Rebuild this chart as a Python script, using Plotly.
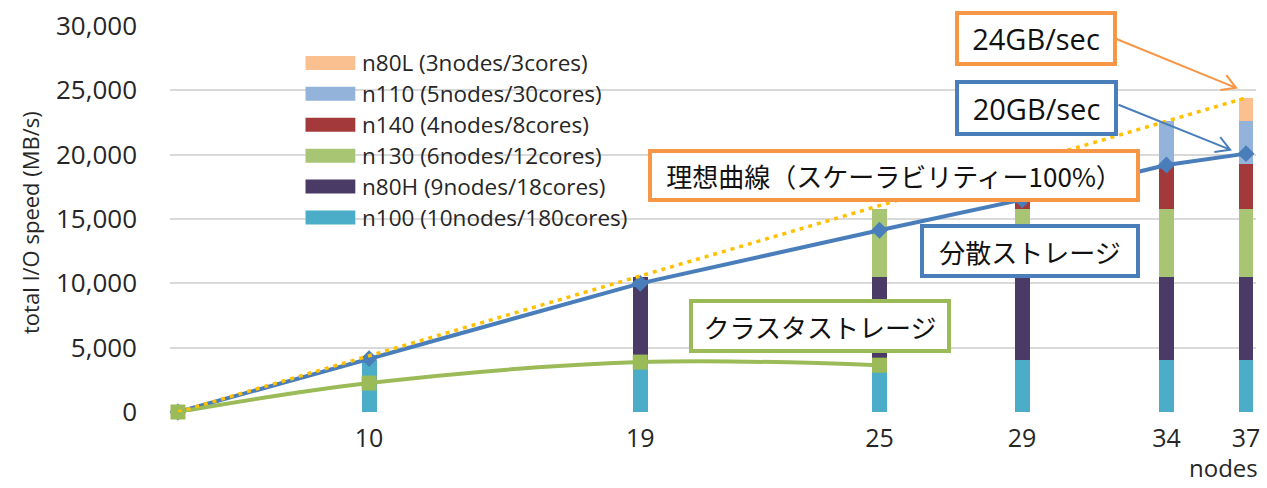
import plotly.graph_objects as go
import math

# ---------------- data ----------------
node_labels = ["0", "10", "19", "25", "29", "34", "37"]
# ideal (100% scalability) throughput, MB/s -> also used as x position
ideal = [0, 4370, 10570, 16040, 19300, 22600, 24420]

# stacked bars (one per node count 10..37), MB/s
bar_series = ["n100 (10nodes/180cores)", "n80H (9nodes/18cores)", "n130 (6nodes/12cores)",
              "n140 (4nodes/8cores)", "n110 (5nodes/30cores)", "n80L (3nodes/3cores)"]
bar_colors = ["#4BADC8", "#4A3B66", "#A8C573", "#A3393B", "#93B3DA", "#FBC08F"]
n100 = [4030, 4030, 4030, 4030, 4030, 4030]
n80H = [0, 6430, 6430, 6430, 6430, 6430]
n130 = [0, 0, 5350, 5350, 5350, 5350]
n140 = [0, 0, 0, 3490, 3490, 3490]
n110 = [0, 0, 0, 0, 3330, 3330]
n80L = [0, 0, 0, 0, 0, 1780]
bar_values = [n100, n80H, n130, n140, n110, n80L]

distributed = [0, 4150, 10000, 14120, 16500, 19200, 20080]   # 分散ストレージ
clustered = [0, 2250, 3880, 3640]                             # クラスタストレージ

# ---------------- geometry helpers ----------------
W, H = 1267, 488
L, R, T, B = 170, 7, 25, 76
PW, PH = W - L - R, H - T - B


def px(x):
    return (x - L) / PW


def py(y):
    return (H - B - y) / PH


FONT = "Open Sans, Noto Sans CJK JP, sans-serif"
JFONT = "Noto Sans CJK JP, sans-serif"

fig = go.Figure()

bar_x = ideal[1:]
for name, col, vals in zip(bar_series, bar_colors, bar_values):
    fig.add_trace(go.Bar(x=bar_x, y=vals, name=name, marker=dict(color=col, line=dict(width=0)),
                         width=340, showlegend=False))

fig.add_trace(go.Scatter(x=ideal, y=distributed, mode="lines+markers", name="分散ストレージ",
                         line=dict(color="#4A7EBB", width=4),
                         marker=dict(symbol="diamond", size=13, color="#4A7EBB"),
                         cliponaxis=False, showlegend=False))
fig.add_trace(go.Scatter(x=ideal[:len(clustered)], y=clustered, mode="lines+markers",
                         name="クラスタストレージ",
                         line=dict(color="#9BBB59", width=4, shape="spline", smoothing=1.0),
                         marker=dict(symbol="square", size=15, color="#9BBB59"),
                         cliponaxis=False, showlegend=False))
fig.add_trace(go.Scatter(x=ideal, y=ideal, mode="lines", name="理想曲線",
                         line=dict(color="#FFC000", width=3.5, dash="4px,5px"),
                         cliponaxis=False, showlegend=False))

shapes = []
annotations = []

# white legend background covering gridlines
shapes.append(dict(type="rect", xref="paper", yref="paper", x0=px(208), x1=px(735), y0=py(236), y1=py(18),
                   fillcolor="white", line=dict(width=0), layer="between"))

# manual legend (top to bottom reversed stacking order)
for i, k in enumerate(range(len(bar_series) - 1, -1, -1)):
    yc = 62 + 31 * i
    shapes.append(dict(type="rect", xref="paper", yref="paper", x0=px(306), x1=px(356),
                       y0=py(yc + 7), y1=py(yc - 7), fillcolor=bar_colors[k], line=dict(width=0)))
    annotations.append(dict(text=bar_series[k], xref="paper", yref="paper", x=px(361), y=py(yc),
                            xanchor="left", yanchor="middle", showarrow=False,
                            font=dict(family=FONT, size=22.5, color="#262626")))

# boxed callouts: (text, color, x0, x1, y0, y1, size, font)
boxes = [
    ("24GB/sec", "#F79646", 958, 1120, 10, 65, 29, FONT),
    ("20GB/sec", "#4A7EBB", 958, 1121, 79, 135, 29, FONT),
    ("理想曲線（スケーラビリティー100%）", "#F79646", 651, 1143, 148, 201, 26, JFONT),
    ("分散ストレージ", "#4A7EBB", 923, 1143, 224, 278, 26, JFONT),
    ("クラスタストレージ", "#9BBB59", 691, 953, 299, 353, 26, JFONT),
]
BW = 4
for text, col, x0, x1, y0, y1, size, fam in boxes:
    annotations.append(dict(text=text, xref="paper", yref="paper",
                            x=px((x0 + x1) / 2), y=py((y0 + y1) / 2),
                            xanchor="center", yanchor="middle", showarrow=False,
                            width=x1 - x0 - 2 * BW, height=y1 - y0 - 2 * BW,
                            bgcolor="white", bordercolor=col, borderwidth=BW, borderpad=0,
                            font=dict(family=fam, size=size, color="#111111")))


def arrow(xs, ys, xt, yt, col):
    d = math.hypot(xt - xs, yt - ys)
    ux, uy = (xt - xs) / d, (yt - ys) / d
    ln, ang = 16, math.radians(30)
    pts = []
    for s in (1, -1):
        c, sn = math.cos(s * ang), math.sin(s * ang)
        vx = -(ux * c - uy * sn)
        vy = -(ux * sn + uy * c)
        pts.append((xt + ln * vx, yt + ln * vy))
    path = (f"M{px(xs)},{py(ys)} L{px(xt)},{py(yt)} "
            f"M{px(pts[0][0])},{py(pts[0][1])} L{px(xt)},{py(yt)} L{px(pts[1][0])},{py(pts[1][1])}")
    shapes.append(dict(type="path", xref="paper", yref="paper", path=path,
                       line=dict(color=col, width=2)))


arrow(1120, 38, 1240, 87, "#F79646")
arrow(1122, 104, 1234, 149, "#4A7EBB")

# axis titles
annotations.append(dict(text="total I/O speed (MB/s)", xref="paper", yref="paper", x=px(30), y=py(222),
                        textangle=-90, showarrow=False, xanchor="center", yanchor="middle",
                        font=dict(family=FONT, size=22, color="#262626")))
annotations.append(dict(text="nodes", xref="paper", yref="paper", x=px(1264), y=py(468),
                        xanchor="right", yanchor="middle", showarrow=False,
                        font=dict(family=FONT, size=24, color="#262626")))

fig.update_layout(
    width=W, height=H, margin=dict(l=L, r=R, t=T, b=B),
    barmode="stack", plot_bgcolor="white", paper_bgcolor="white",
    font=dict(family=FONT, color="#262626"),
    shapes=shapes, annotations=annotations, showlegend=False,
    xaxis=dict(range=[-182, 24648], tickvals=ideal[1:], ticktext=node_labels[1:],
               showgrid=False, zeroline=False, showline=False, ticks="",
               tickfont=dict(size=25, color="#262626"), ticklabelstandoff=9),
    yaxis=dict(range=[0, 30000], dtick=5000, tickformat=",", showgrid=True,
               gridcolor="#D9D9D9", gridwidth=1.5, zeroline=False, showline=False,
               tickfont=dict(size=26, color="#262626"), ticklabelstandoff=32),
)

fig.write_html("out.html")
